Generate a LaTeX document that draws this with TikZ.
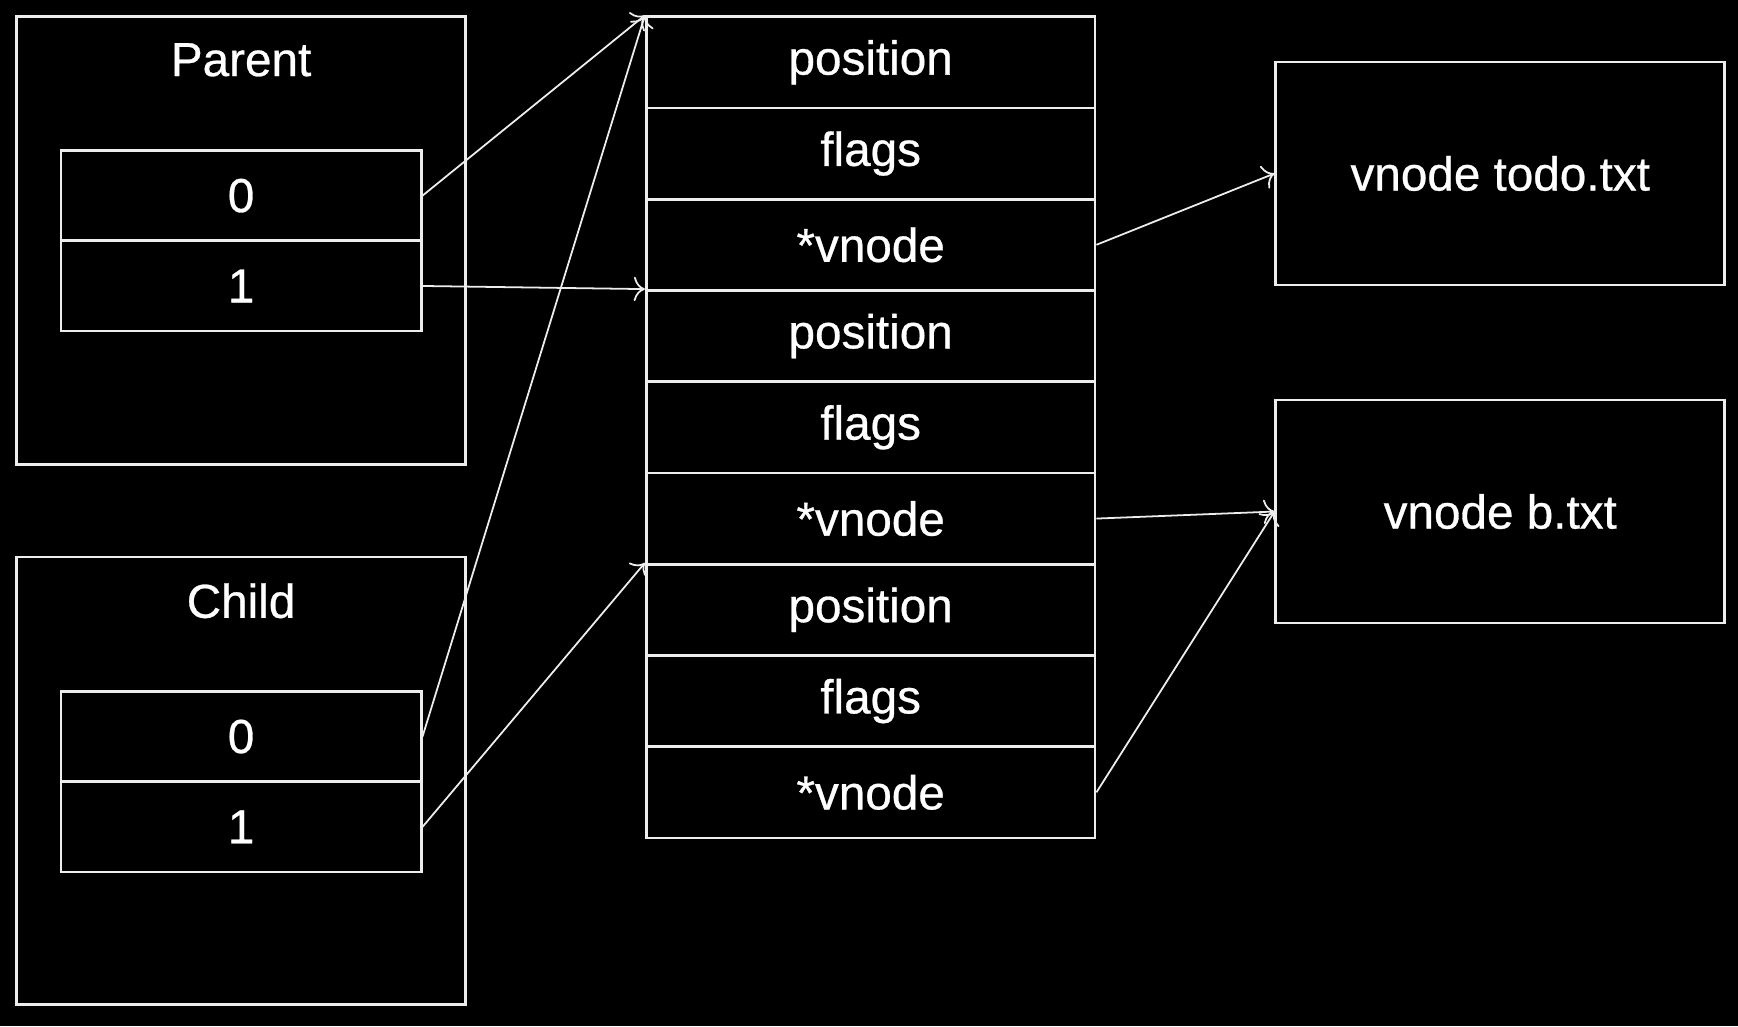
\documentclass[tikz,border=0pt]{standalone}
\usepackage{fontspec}
\setmainfont{Liberation Sans}[FakeBold=0.6]
\usetikzlibrary{arrows.meta}

\tikzset{
	txt/.style={text=white, inner sep=0pt, font=\fontsize{21.5}{26}\selectfont},
	box/.style={txt, draw=white!93!black, line width=1.2pt, rectangle},
	frame/.style={box, minimum width=202.5pt, minimum height=202pt},
	cell/.style={box, minimum width=162.5pt, minimum height=40.75pt},
	row/.style={box, minimum width=202.5pt, minimum height=41.17pt},
	file/.style={box, minimum width=202.5pt, minimum height=100.5pt},
	ptr/.style={draw=white!93!black, line width=0.8pt, -{To[length=5pt,width=11pt]}},
}

\begin{document}
\begin{tikzpicture}[x=0.5pt, y=-0.5pt]
	\fill[black] (0,0) rectangle (1568,926);
	\node[frame] (parent) at (217.5,217) {};
	\node[txt] (parentlbl) at (217.5,54) {Parent};
	\node[cell] (p0) at (217.5,176.5) {0};
	\node[cell] (p1) at (217.5,258) {1};
	\node[frame] (child) at (217.5,704.5) {};
	\node[txt] (childlbl) at (217.5,542) {Child};
	\node[cell] (c0) at (217.5,664.5) {0};
	\node[cell] (c1) at (217.5,746) {1};
	\foreach \f [count=\i] in {position,flags,*vnode,position,flags,*vnode,position,flags,*vnode}
		\node[row] (r\i) at (785.5,{56.2+(\i-1)*82.33}) {\f};
	\node[file] (todo) at (1353.5,156.5) {vnode todo.txt};
	\node[file] (btxt) at (1353.5,461.5) {vnode b.txt};
	\draw[ptr] (p0.east) -- (r1.north west);
	\draw[ptr] (p1.east) -- (r4.north west);
	\draw[ptr] (c0.east) -- (r1.north west);
	\draw[ptr] (c1.east) -- (r7.north west);
	\draw[ptr] (r3.east) -- (todo.west);
	\draw[ptr] (r6.east) -- (btxt.west);
	\draw[ptr] (r9.east) -- (btxt.west);
\end{tikzpicture}
\end{document}
